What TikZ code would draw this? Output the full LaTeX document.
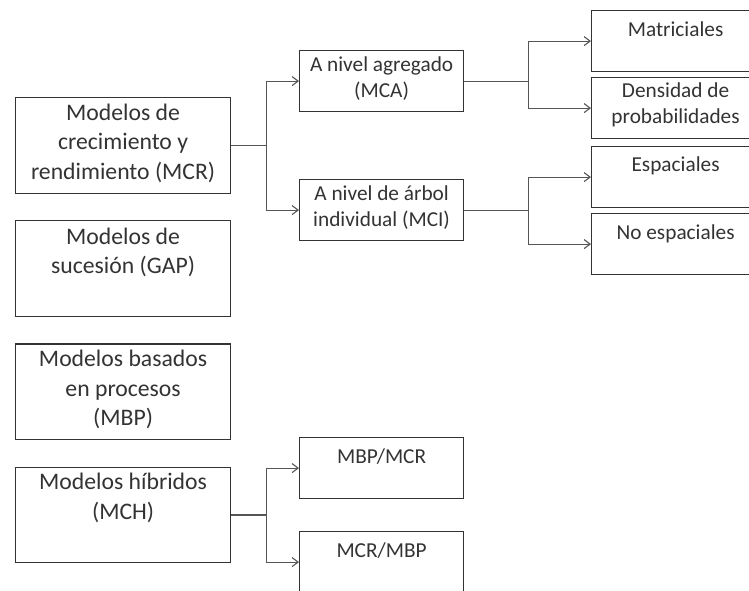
\documentclass[tikz,border=0pt]{standalone}
\usepackage{fontspec}
\setmainfont{Carlito}
\usetikzlibrary{arrows.meta,positioning}
\definecolor{linegray}{HTML}{555555}
\definecolor{boxgray}{HTML}{333333}
\definecolor{txtgray}{HTML}{333333}

\begin{document}
\begin{tikzpicture}[x=1pt, y=-1pt, node distance=26.5pt]
  \tikzstyle{bigbox} = [rectangle, draw=boxgray, line width=1.2pt,
  minimum width=215pt, minimum height=95.5pt, inner sep=0pt]
  \tikzstyle{smallbox} = [rectangle, draw=boxgray, line width=1.2pt,
  minimum width=164pt, minimum height=61pt, inner sep=0pt]
  \tikzstyle{leafbox} = [smallbox, minimum width=168pt]
  \tikzstyle{bigtext} = [align=center, inner sep=0pt, anchor=north,
  text=txtgray, font=\fontsize{23.7}{29.5}\selectfont,
  execute at begin node={\rule{0pt}{20pt}}]
  \tikzstyle{smalltext} = [bigtext, font=\fontsize{21.3}{26.5}\selectfont]
  \tikzstyle{link} = [draw=linegray, line width=1.1pt]
  \tikzstyle{arrow} = [link, -{Straight Barb[length=6pt,width=9pt]}]

  \path [use as bounding box, clip] (0,0) rectangle (749,590);

  \node [bigbox, anchor=north west] (mcr) at (15,97) {};
  \node [bigbox, below=of mcr] (gap) {};
  \node [bigbox, below=of gap] (mbp) {};
  \node [bigbox, below=of mbp] (mch) {};

  \node [smallbox, anchor=north west] (mca) at (299,50) {};
  \node [smallbox, anchor=north west] (mci) at (299,179) {};
  \node [smallbox, anchor=north west] (mbpmcr) at (299,437) {};
  \node [smallbox, anchor=north west] (mcrmbp) at (299,531) {};

  \node [leafbox, anchor=north west] (mat) at (591,10) {};
  \node [leafbox, anchor=north west] (den) at (591,77) {};
  \node [leafbox, anchor=north west] (esp) at (591,146) {};
  \node [leafbox, anchor=north west] (noesp) at (591,213) {};

  \node [bigtext] (mcrtext) at ([yshift=-6.5pt]mcr.north) {Modelos de\\crecimiento y\\rendimiento (MCR)};
  \node [bigtext] (gaptext) at ([yshift=-7.5pt]gap.north) {Modelos de\\sucesión (GAP)};
  \node [bigtext] (mbptext) at ([yshift=-6.5pt]mbp.north) {Modelos basados\\en procesos\\(MBP)};
  \node [bigtext] (mchtext) at ([yshift=-6.5pt]mch.north) {Modelos híbridos\\(MCH)};

  \node [smalltext] (mcatext) at ([yshift=-6.5pt]mca.north) {A nivel agregado\\(MCA)};
  \node [smalltext] (mcitext) at ([yshift=-6.5pt]mci.north) {A nivel de árbol\\individual (MCI)};
  \node [smalltext] (mbpmcrtext) at ([yshift=-6.5pt]mbpmcr.north) {MBP/MCR};
  \node [smalltext] (mcrmbptext) at ([yshift=-6.5pt]mcrmbp.north) {MCR/MBP};

  \node [smalltext] (mattext) at ([yshift=-6pt]mat.north) {Matriciales};
  \node [smalltext] (dentext) at ([yshift=-5.5pt]den.north) {Densidad de\\probabilidades};
  \node [smalltext] (esptext) at ([yshift=-5.5pt]esp.north) {Espaciales};
  \node [smalltext] (noesptext) at ([yshift=-6pt]noesp.north) {No espaciales};

  \draw [link] (mcr.east) -- ++(35,0) coordinate (mcrfork);
  \draw [arrow] (mcrfork) |- (mca.west);
  \draw [arrow] (mcrfork) |- (mci.west);

  \draw [link] (mca.east) -- ++(64,0) coordinate (mcafork);
  \draw [arrow] (mcafork) |- (mat.west);
  \draw [arrow] (mcafork) |- (den.west);

  \draw [link] (mci.east) -- ++(64,0) coordinate (mcifork);
  \draw [arrow] (mcifork) |- (esp.west);
  \draw [arrow] (mcifork) |- (noesp.west);

  \draw [link] (mch.east) -- ++(35,0) coordinate (mchfork);
  \draw [arrow] (mchfork) |- (mbpmcr.west);
  \draw [arrow] (mchfork) |- (mcrmbp.west);
\end{tikzpicture}
\end{document}
